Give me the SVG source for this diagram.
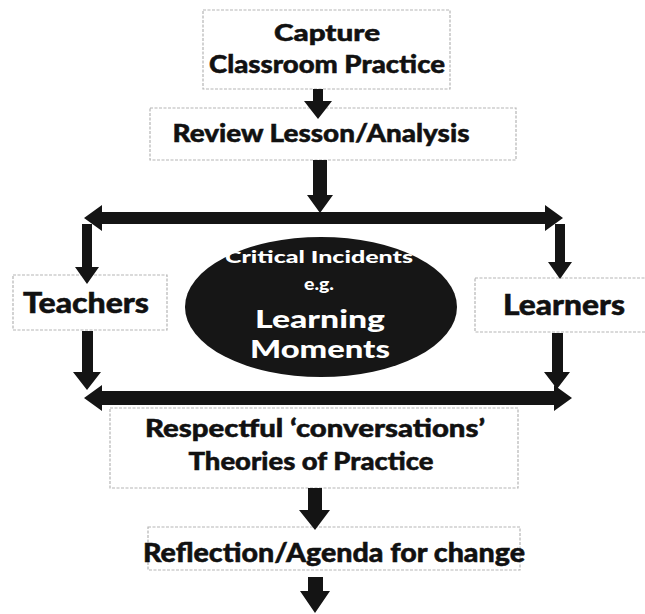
<svg xmlns="http://www.w3.org/2000/svg" width="645" height="614" viewBox="0 0 645 614">
<style>
.box{fill:#fff;stroke:#b5b5b5;stroke-width:1.2;stroke-dasharray:3 1.5}
.t{font-family:Lato,"Open Sans","Liberation Sans",sans-serif;font-weight:900;fill:#111;stroke:#111;stroke-width:0.5;text-anchor:middle}
.w{font-family:Lato,"Open Sans","Liberation Sans",sans-serif;font-weight:900;fill:#fff;text-anchor:middle}
.ar{fill:#141414}
</style>
<rect width="645" height="614" fill="#fff"/>
<g id="capture">
<rect class="box" x="203" y="10" width="247" height="79"/>
<text class="t" x="327" y="41" font-size="23" textLength="106" lengthAdjust="spacingAndGlyphs">Capture</text>
<text class="t" x="327" y="73" font-size="25" textLength="236" lengthAdjust="spacingAndGlyphs">Classroom Practice</text>
</g>
<g id="review">
<rect class="box" x="150" y="108" width="366" height="52"/>
<text class="t" x="321" y="142" font-size="25" textLength="297" lengthAdjust="spacingAndGlyphs">Review Lesson/Analysis</text>
</g>
<g id="teachers">
<rect class="box" x="13" y="275" width="154" height="55"/>
<text class="t" x="86" y="313" font-size="28" textLength="126" lengthAdjust="spacingAndGlyphs">Teachers</text>
</g>
<g id="learners">
<rect class="box" x="475" y="278" width="175" height="54"/>
<text class="t" x="564" y="315" font-size="28" textLength="122" lengthAdjust="spacingAndGlyphs">Learners</text>
</g>
<g id="incidents">
<ellipse cx="321" cy="307" rx="136" ry="70" fill="#161616"/>
<text class="w" x="319" y="263" font-size="17" textLength="188" lengthAdjust="spacingAndGlyphs">Critical Incidents</text>
<text class="w" x="319" y="290" font-size="17" textLength="30" lengthAdjust="spacingAndGlyphs">e.g.</text>
<text class="w" x="320" y="328" font-size="24" textLength="130" lengthAdjust="spacingAndGlyphs">Learning</text>
<text class="w" x="320" y="358" font-size="24" textLength="140" lengthAdjust="spacingAndGlyphs">Moments</text>
</g>
<g id="respectful">
<rect class="box" x="110" y="408" width="408" height="80"/>
<text class="t" x="315" y="437" font-size="24" textLength="340" lengthAdjust="spacingAndGlyphs">Respectful ‘conversations’</text>
<text class="t" x="311" y="470" font-size="24" textLength="245" lengthAdjust="spacingAndGlyphs">Theories of Practice</text>
</g>
<g id="reflection">
<rect class="box" x="148" y="527" width="372" height="43"/>
<text class="t" x="334" y="562" font-size="26" textLength="382" lengthAdjust="spacingAndGlyphs">Reflection/Agenda for change</text>
</g>
<g id="connectors">
<polygon class="ar" points="313,89 323,89 323,101 332,101 318,119 304,101 313,101"/>
<polygon class="ar" points="313,160 327,160 327,195 333,195 320,213 307,195 313,195"/>
<polygon class="ar" points="84,218 102,205 102,212 545,212 545,205 563,218 545,231 545,224 102,224 102,231"/>
<polygon class="ar" points="82,224 92,224 92,267 99,267 87,284 75,267 82,267"/>
<polygon class="ar" points="555,224 565,224 565,262 572,262 560,279 548,262 555,262"/>
<polygon class="ar" points="82,331 93,331 93,372 101,372 87,390 73,372 82,372"/>
<polygon class="ar" points="552,333 563,333 563,372 570,372 557,389 544,372 552,372"/>
<polygon class="ar" points="84,398 102,385 102,391 554,391 554,385 572,398 554,411 554,405 102,405 102,411"/>
<polygon class="ar" points="308,488 322,488 322,510 330,510 315,530 299,510 308,510"/>
<polygon class="ar" points="308,577 323,577 323,591 330,591 315,613 300,591 308,591"/>
</g>
</svg>
